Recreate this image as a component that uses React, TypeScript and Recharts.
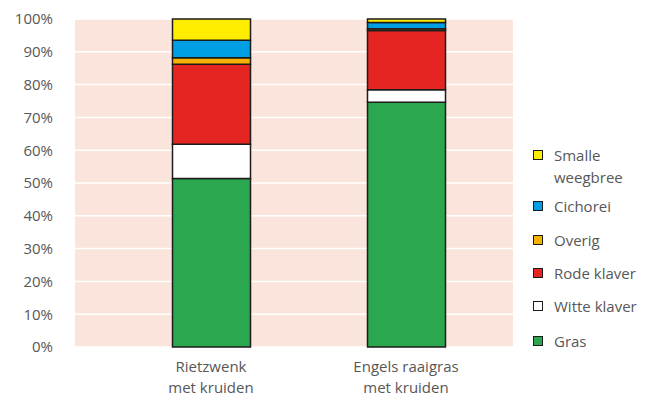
import React from 'react';
import { BarChart, Bar, XAxis, YAxis, CartesianGrid } from 'recharts';

// Categories (line break marks where the axis label wraps)
const categories = ['Rietzwenk\nmet kruiden', 'Engels raaigras\nmet kruiden'];

// Share of each component per mixture, in %
const gras = [51.4, 74.6];
const witteKlaver = [10.4, 3.8];
const rodeKlaver = [24.4, 18.1];
const overig = [2.0, 0.5];
const cichorei = [5.3, 1.9];
const smalleWeegbree = [6.5, 1.1];

const yTicks = [0, 10, 20, 30, 40, 50, 60, 70, 80, 90, 100];

// Stacked bottom to top
const series = [
  { key: 'gras', name: 'Gras', values: gras, color: '#2ba84f' },
  { key: 'witte', name: 'Witte klaver', values: witteKlaver, color: '#ffffff' },
  { key: 'rode', name: 'Rode klaver', values: rodeKlaver, color: '#e52521' },
  { key: 'overig', name: 'Overig', values: overig, color: '#f8b100' },
  { key: 'cichorei', name: 'Cichorei', values: cichorei, color: '#009fe3' },
  { key: 'smalle', name: 'Smalle\nweegbree', values: smalleWeegbree, color: '#ffed00' },
];

const data = categories.map((cat, i) => {
  const row: Record<string, string | number> = { name: cat };
  series.forEach(s => { row[s.key] = s.values[i]; });
  return row;
});

const FONT = '"Open Sans", "Noto Sans", sans-serif';
const TEXT = '#575757';

const CategoryTick = ({ x, y, payload }: any) => {
  const lines = String(payload.value).split('\n');
  return (
    <text x={x} y={y} textAnchor="middle" fill={TEXT} fontSize={15} fontFamily={FONT}>
      {lines.map((line, i) => (
        <tspan key={i} x={x} dy={i === 0 ? 25 : 21}>{line}</tspan>
      ))}
    </text>
  );
};

const legendTops = [144, 195, 229, 262, 295, 330];

const App: React.FC = () => {
  const legendItems = [...series].reverse();
  return (
    <div style={{ position: 'absolute', left: 0, top: 0, width: 650, height: 398, background: '#fff', fontFamily: FONT }}>
      <BarChart
        width={650}
        height={398}
        data={data}
        margin={{ top: 19, right: 137, left: 0, bottom: 6 }}
      >
        <CartesianGrid vertical={false} fill="#fbe4dc" stroke="#ffffff" strokeWidth={1.5} />
        <XAxis
          dataKey="name"
          axisLine={false}
          tickLine={false}
          tickSize={0}
          tickMargin={0}
          height={45}
          interval={0}
          padding={{ left: 38.5, right: 9.5 }}
          tick={<CategoryTick />}
        />
        <YAxis
          domain={[0, 100]}
          ticks={yTicks}
          width={75}
          axisLine={false}
          tickLine={false}
          tickSize={0}
          tickMargin={22}
          tick={{ fill: TEXT, fontSize: 15, fontFamily: FONT }}
          tickFormatter={(v) => `${v}%`}
        />
        {series.map(s => (
          <Bar
            key={s.key}
            dataKey={s.key}
            stackId="mix"
            fill={s.color}
            stroke="#1c1c1c"
            strokeWidth={1.5}
            barSize={78}
            isAnimationActive={false}
          />
        ))}
      </BarChart>
      {/* Legend, top series first */}
      {legendItems.map((s, i) => (
        <div key={s.key} style={{ position: 'absolute', left: 533, top: legendTops[i], display: 'flex', alignItems: 'flex-start' }}>
          <span style={{ display: 'inline-block', width: 8, height: 8, marginTop: 6, background: s.color, border: '1.5px solid #1c1c1c' }} />
          <span style={{ marginLeft: 11, fontSize: 15, lineHeight: '22px', color: TEXT, whiteSpace: 'pre' }}>{s.name}</span>
        </div>
      ))}
    </div>
  );
};

export default App;
